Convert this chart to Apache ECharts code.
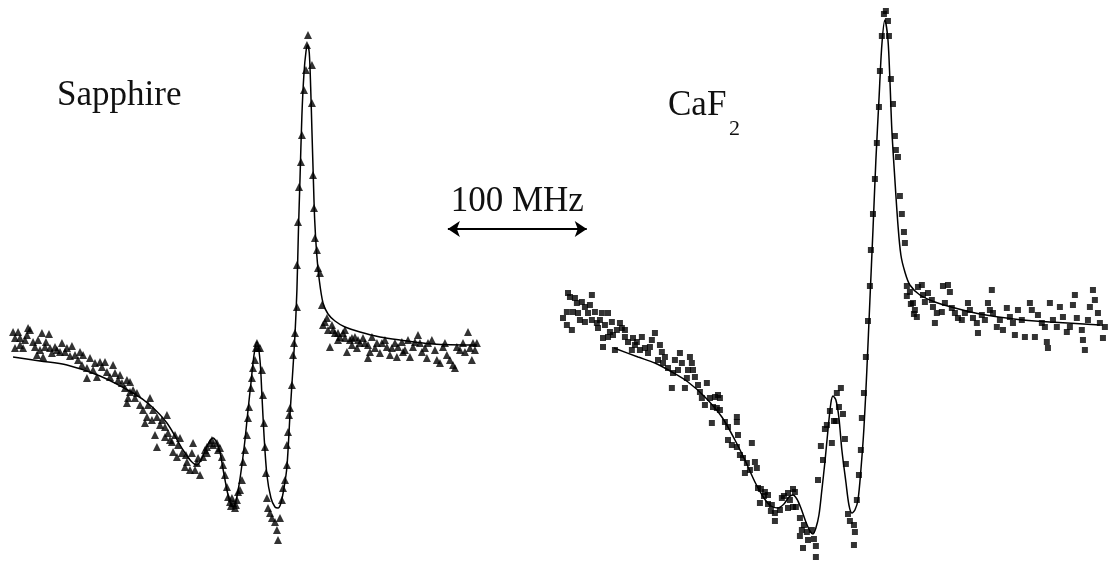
<!DOCTYPE html>
<html>
<head>
<meta charset="utf-8">
<title>Sapphire / CaF2 spectra</title>
<script src="https://cdn.jsdelivr.net/npm/echarts@6/dist/echarts.min.js"></script>
<style>
  html, body { margin: 0; padding: 0; background: #fff; }
  #chart { width: 1111px; height: 561px; }
</style>
</head>
<body>
<div id="chart"></div>
<script>
// x: frequency (MHz), y: signal (arb. units)

// Sapphire - measured points (triangles)
const sapphirePoints = [
  [9.4,45.8],[13.0,45.8],[20.2,46.6],[21.6,46.2],[30.2,45.6],[35.3,45.4],[10.8,44.6],[14.4,44.6],
  [18.0,44.2],[23.8,43.8],[10.8,42.6],[16.6,42.6],[25.2,42.8],[28.8,42.2],[32.4,42.8],[36.0,42.6],
  [39.6,42.8],[44.6,43.6],[48.2,42.6],[51.8,43.0],[26.6,41.2],[31.0,40.8],[37.4,41.6],[43.2,41.8],
  [54.0,41.2],[59.8,41.2],[64.8,40.6],[56.2,40.2],[59.0,39.2],[62.6,38.6],[62.6,36.6],[67.0,38.2],
  [69.8,36.8],[72.0,39.8],[73.4,38.8],[77.0,37.8],[81.4,39.2],[82.8,37.6],[79.2,36.8],[85.0,36.2],
  [87.8,35.6],[90.0,34.6],[93.6,35.8],[93.6,33.8],[92.2,32.6],[91.4,31.6],[95.8,34.2],[98.6,33.6],
  [100.8,31.2],[108.0,32.6],[103.0,30.2],[105.8,28.8],[104.4,27.6],[109.4,28.2],[110.2,30.2],[113.0,28.8],
  [116.6,28.2],[120.2,29.2],[118.8,26.8],[121.0,25.6],[111.6,25.2],[113.0,22.8],[118.8,24.8],[123.8,23.8],
  [126.0,25.2],[129.6,24.6],[128.2,23.2],[124.6,21.8],[127.4,20.8],[131.0,21.6],[133.2,18.8],[134.6,19.8],
  [136.8,18.2],[138.2,21.6],[139.0,23.6],[141.8,19.6],[144.0,17.2],[142.6,20.6],[146.2,20.8],[149.0,21.6],
  [149.0,22.8],[152.6,24.2],[153.4,23.2],[156.2,23.6],[157.0,22.2],[159.8,20.8],[160.6,19.2],[162.0,17.2],
  [163.4,14.8],[164.2,12.8],[165.6,11.8],[167.8,11.6],[169.2,10.6],[166.3,11.0],[170.6,12.2],[171.4,13.8],
  [172.8,14.2],[174.2,16.2],[175.0,19.8],[176.4,22.2],[177.8,25.2],[178.6,28.6],[179.3,30.8],[180.7,34.6],
  [181.4,36.6],[182.2,38.6],[183.6,40.2],[184.3,42.6],[185.8,42.6],[185.0,43.6],[187.2,42.6],[188.6,38.2],
  [189.4,33.2],[190.1,27.6],[190.8,22.8],[191.5,17.6],[192.2,12.6],[193.0,10.6],[194.4,9.6],[195.8,8.6],
  [198.0,7.8],[199.4,6.2],[200.2,4.2],[201.6,8.6],[203.0,12.2],[203.8,14.6],[205.2,16.2],[206.6,19.2],
  [206.6,23.2],[207.4,25.8],[208.1,29.2],[208.8,30.6],[210.2,35.2],[211.0,41.2],[211.7,43.6],[212.4,45.6],
  [213.8,50.8],[213.8,59.2],[214.6,67.8],[215.3,74.8],[216.7,79.8],[217.4,85.2],[218.9,94.2],[220.3,98.2],
  [221.0,103.2],[221.8,105.2],[224.6,99.2],[224.6,91.6],[225.4,77.2],[226.1,70.6],[226.8,64.6],[228.2,62.2],
  [229.0,58.6],[230.4,57.6],[231.8,51.2],[232.6,47.2],[235.4,48.6],[236.2,46.2],[239.0,47.2],[241.2,45.6],
  [237.6,42.8],[244.8,44.8],[247.0,45.6],[249.8,41.8],[252.0,44.2],[255.6,44.8],[259.2,43.6],[261.4,44.6],
  [265.0,43.2],[266.4,41.8],[265.0,40.6],[267.8,44.8],[271.4,43.6],[273.6,41.6],[275.0,43.6],[278.6,42.8],
  [282.2,42.6],[285.8,40.8],[286.6,42.8],[289.4,43.8],[291.6,42.2],[293.8,44.2],[295.2,40.8],[297.4,42.8],
  [301.0,45.2],[302.4,43.6],[303.8,41.8],[307.4,40.6],[308.2,43.6],[311.0,44.2],[313.2,42.2],[314.6,40.2],
  [316.8,39.6],[319.0,42.8],[321.8,41.2],[324.0,40.2],[326.2,39.2],[327.6,38.6],[329.0,42.8],[331.2,42.2],
  [333.4,43.6],[337.0,45.8],[338.4,42.6],[340.6,43.6],[339.8,40.2],[343.4,43.6],[342.0,42.2],
  [239.8,46.2],[243.4,45.6],[248.4,44.6],[253.4,43.2],[257.8,44.2],
  [14.4,43.2],[19.4,45.2],[27.4,44.2],[33.1,43.8],[41.0,42.2],[46.8,41.8],[50.4,41.0],[57.6,41.8],
  [68.4,39.6],[75.6,39.8],[86.4,37.2],[91.4,36.2],[97.2,32.6],[106.6,31.2],[115.2,27.2],[122.4,24.2],
  [133.9,21.2],[140.4,18.2],[147.6,22.2],[151.2,23.6],[158.4,22.6],[167.0,12.6],[169.9,11.2],
  [234.0,47.8],[243.4,44.2],[248.4,46.2],[253.4,44.6],[257.0,42.6],[262.8,43.6],[270.0,42.6],[277.2,44.2],
  [280.8,41.2],[284.4,43.6],[290.2,41.8],[298.8,43.8],[306.0,42.6],[320.4,43.6],[334.8,41.8]
];

// Sapphire - fitted curve
const sapphireFit = [
  [9.4,40.8],[28.8,40.0],[48.2,39.2],[72.0,37.0],[95.8,33.6],[108.0,31.2],[120.2,27.6],[131.8,22.2],
  [137.5,20.0],[141.8,19.2],[146.2,21.0],[149.8,23.4],[153.4,24.6],[156.2,23.6],[158.4,21.8],[160.6,18.4],
  [163.4,14.2],[165.6,11.8],[167.8,10.8],[169.9,12.0],[172.1,15.2],[174.2,19.2],[176.4,24.2],[178.6,30.2],
  [180.7,35.6],[182.9,41.2],[185.0,43.8],[187.2,40.2],[188.6,33.2],[190.1,25.2],[192.2,17.2],[195.1,12.6],
  [198.0,10.8],[200.2,10.6],[202.3,11.6],[204.5,14.6],[206.6,18.8],[208.8,29.2],[211.0,38.8],[212.4,45.2],
  [213.8,54.2],[214.9,66.2],[216.0,76.2],[217.4,89.2],[218.9,97.6],[220.3,101.8],[221.5,103.2],[222.7,101.6],
  [223.7,94.8],[224.6,86.2],[225.6,76.8],[226.6,68.2],[228.0,61.6],[229.9,56.2],[232.6,51.6],[236.2,49.4],
  [241.2,48.0],[248.4,46.8],[259.2,45.8],[273.6,44.8],[288.0,44.2],[311.8,43.4],[343.4,43.2]
];

// CaF2 - measured points (squares)
const cafPoints = [
  [409.0,53.6],[410.4,52.8],[426.2,53.2],[415.4,51.6],[419.0,51.8],[421.2,50.8],[408.2,49.8],[412.6,49.8],
  [416.2,49.6],[423.4,49.6],[428.4,49.8],[433.4,49.6],[437.8,49.6],[417.6,48.2],[421.2,47.8],[426.2,48.2],
  [429.8,47.6],[430.6,46.6],[408.2,47.2],[411.8,46.2],[435.6,47.2],[439.2,45.8],[444.2,46.2],[447.8,46.6],
  [446.4,47.6],[434.2,44.6],[437.8,44.8],[441.4,45.2],[434.2,42.8],[442.8,42.2],[450.0,44.8],[452.2,43.8],
  [455.8,44.6],[458.6,43.8],[462.2,44.8],[471.6,45.6],[469.4,44.2],[455.0,42.2],[460.8,42.2],[464.4,42.6],
  [466.6,41.6],[476.6,41.8],[478.8,40.8],[473.8,40.2],[477.4,39.6],[481.0,38.6],[489.6,41.6],[491.0,39.6],
  [496.8,40.8],[498.2,39.6],[488.2,38.2],[495.4,38.2],[499.0,38.2],[484.6,37.6],[494.6,36.6],[483.8,34.6],
  [493.2,34.6],[502.6,35.2],[504.0,33.8],[509.0,35.6],[505.4,32.6],[511.2,32.6],[514.8,32.8],[517.0,33.2],
  [518.4,32.6],[513.4,30.8],[516.2,30.6],[512.6,27.6],[522.0,27.8],[524.2,26.8],[530.6,28.8],[530.6,27.8],
  [524.2,24.2],[527.0,23.2],[531.4,25.2],[530.6,22.8],[541.4,23.6],[535.0,20.6],[537.8,19.6],[543.6,19.8],
  [536.4,17.6],[545.0,18.6],[545.8,14.6],[547.9,14.4],[550.1,13.0],[550.8,13.8],[553.0,11.4],[547.2,11.6],
  [555.1,10.0],[555.8,11.2],[558.0,9.6],[558.0,8.0],[563.0,12.6],[564.5,13.0],[567.4,13.6],[571.0,14.4],
  [572.4,13.8],[567.4,10.6],[571.0,10.8],[573.1,10.8],[576.0,8.6],[578.9,7.2],[576.0,5.0],[577.4,6.2],
  [581.0,5.8],[586.1,4.4],[587.5,3.0],[587.5,0.8],[578.2,2.6],
  [591.1,23.0],[594.0,26.4],[595.4,27.2],[597.6,30.0],[600.5,28.0],[602.6,33.6],[605.5,34.6],[604.1,30.8],
  [607.0,29.4],[601.9,28.0],[599.0,23.6],[589.0,16.2],[592.6,20.2],[608.4,24.4],[609.1,19.4],[610.6,9.4],
  [612.0,8.0],[614.9,7.2],[615.6,5.8],[614.9,3.2],[617.0,12.2],[618.5,17.2],[619.9,22.2],[620.6,28.6],
  [622.1,33.6],[623.5,40.8],[625.0,48.0],[626.4,55.0],[627.1,62.2],[628.6,69.4],[630.0,76.4],[631.4,83.6],
  [632.9,90.8],[633.6,98.0],[635.0,105.0],[636.5,109.4],[637.9,110.0],[639.4,108.0],[640.1,105.0],[641.5,96.4],
  [643.0,91.4],[644.4,85.0],[645.1,82.2],[646.6,80.8],[648.0,73.0],[649.4,69.4],[650.9,65.8],[651.6,63.6],
  [653.0,55.0],
  [653.0,53.0],[655.9,51.4],[658.1,49.4],[655.2,53.8],[657.4,51.6],[658.8,50.2],[660.2,48.8],[661.0,54.8],
  [663.8,55.2],[664.6,53.2],[666.0,51.8],[668.2,53.6],[671.0,52.2],[671.8,50.8],[674.6,49.6],[673.2,47.6],
  [678.2,49.8],[680.4,51.6],[682.6,55.2],[684.0,53.8],[685.4,50.6],[687.6,49.6],[689.8,48.6],[692.6,48.2],
  [694.8,49.6],[697.0,51.6],[698.4,50.2],[700.6,48.6],[703.4,47.6],[704.2,45.6],[707.0,49.2],[709.2,48.2],
  [711.4,51.6],[712.8,50.2],[714.2,54.2],[715.0,49.6],[717.8,46.8],[720.0,48.2],[722.2,46.2],[725.0,50.6],
  [727.2,48.8],[729.4,47.6],[730.8,45.2],[733.0,50.2],[735.8,48.2],[738.0,44.8],[741.6,51.6],[743.0,50.2],
  [745.2,44.8],[747.4,49.2],[750.2,47.6],[752.4,46.8],[753.8,43.8],[754.6,42.6],[756.0,51.6],[758.2,48.2],
  [761.0,46.8],[763.2,50.8],[765.4,48.8],[768.2,45.8],[770.4,46.8],[772.6,51.2],[774.0,53.2],[775.4,48.6],
  [779.0,46.2],[779.8,44.2],[781.2,42.2],[783.4,48.2],[784.8,50.8],[787.0,54.2],[788.4,52.2],[790.6,49.6],
  [792.0,47.6],[794.2,44.6],[795.6,46.8],[679.0,55.0],
  [414.0,52.6],[405.4,48.6],[424.8,51.2],[432.0,48.2],[440.6,47.8],[450.0,46.2],[457.2,43.2],[468.0,42.8],
  [475.2,43.2],[486.0,40.2],[500.4,36.8],[507.6,31.2],[518.4,30.2],[532.8,21.2],[540.0,18.2],[553.0,13.2],
  [561.6,10.2],[568.8,12.2],[581.8,4.2],[584.6,6.2]
];

// CaF2 - fitted curve
const cafFit = [
  [442.1,42.6],[459.4,40.8],[471.6,39.6],[483.8,37.8],[495.4,35.8],[507.6,32.8],[519.8,28.8],[529.2,24.2],
  [536.4,20.2],[543.6,15.8],[550.1,12.6],[555.1,11.0],[560.2,10.6],[564.5,11.4],[568.1,12.8],[571.0,13.2],
  [573.8,12.4],[576.7,10.6],[580.3,7.8],[583.2,6.0],[585.4,5.4],[587.5,6.6],[589.7,9.2],[591.8,14.2],
  [594.0,19.8],[596.2,26.2],[598.3,31.6],[599.8,33.0],[601.9,32.2],[604.1,28.6],[606.2,22.2],[609.1,15.8],
  [611.3,11.2],[613.4,9.6],[615.6,10.2],[617.8,12.2],[619.9,18.2],[622.1,26.6],[624.2,38.2],[626.4,52.2],
  [628.6,66.2],[630.7,80.2],[632.9,92.2],[635.0,103.2],[637.2,108.2],[639.4,104.2],[640.8,96.2],[642.2,86.2],
  [644.4,76.2],[646.6,67.2],[648.7,61.2],[651.6,57.8],[655.2,55.2],[662.4,53.2],[673.2,51.8],[687.6,50.6],
  [705.6,49.4],[730.1,48.4],[756.0,47.8],[792.0,47.2]
];

// 100 MHz scale bar
const scaleBar = [[322.5, 66.4], [422.5, 66.4]];
const scaleLabel = '100 MHz';

const serif = '"Liberation Serif", "DejaVu Serif", serif';

const chart = echarts.init(document.getElementById('chart'));

const option = {
  animation: false,
  backgroundColor: '#fff',
  grid: { left: 0, right: 0, top: 0, bottom: 0 },
  xAxis: { type: 'value', min: 0, max: 800, show: false },
  yAxis: { type: 'value', min: 0, max: 112.2, show: false },
  graphic: [
    {
      type: 'text', left: 57, top: 78,
      style: { text: 'Sapphire', font: '35px ' + serif, fill: '#111' }
    },
    {
      type: 'text', left: 668, top: 88,
      style: { text: 'CaF', font: '35px ' + serif, fill: '#111' }
    },
    {
      type: 'text', left: 729, top: 118,
      style: { text: '2', font: '22px ' + serif, fill: '#111' }
    }
  ],
  series: [
    {
      name: 'Sapphire fit',
      type: 'line',
      data: sapphireFit,
      smooth: 0.3,
      showSymbol: false,
      lineStyle: { color: '#000', width: 1.5 },
      z: 3
    },
    {
      name: 'Sapphire',
      type: 'scatter',
      data: sapphirePoints,
      symbol: 'triangle',
      symbolSize: 8,
      itemStyle: { color: '#000' },
      z: 2
    },
    {
      name: 'CaF2 fit',
      type: 'line',
      data: cafFit,
      smooth: 0.3,
      showSymbol: false,
      lineStyle: { color: '#000', width: 1.5 },
      z: 3
    },
    {
      name: 'CaF2',
      type: 'scatter',
      data: cafPoints,
      symbol: 'rect',
      symbolSize: 6,
      itemStyle: { color: '#000' },
      z: 2
    },
    {
      name: 'scale',
      type: 'line',
      data: [],
      markLine: {
        silent: true,
        symbol: ['arrow', 'arrow'],
        symbolSize: 12,
        lineStyle: { color: '#000', width: 2, type: 'solid' },
        label: {
          show: true,
          position: 'insideMiddleTop',
          formatter: scaleLabel,
          fontFamily: serif,
          fontSize: 35,
          color: '#111',
          distance: 10
        },
        data: [[{ coord: scaleBar[0] }, { coord: scaleBar[1] }]]
      }
    }
  ]
};

chart.setOption(option);
</script>
</body>
</html>
